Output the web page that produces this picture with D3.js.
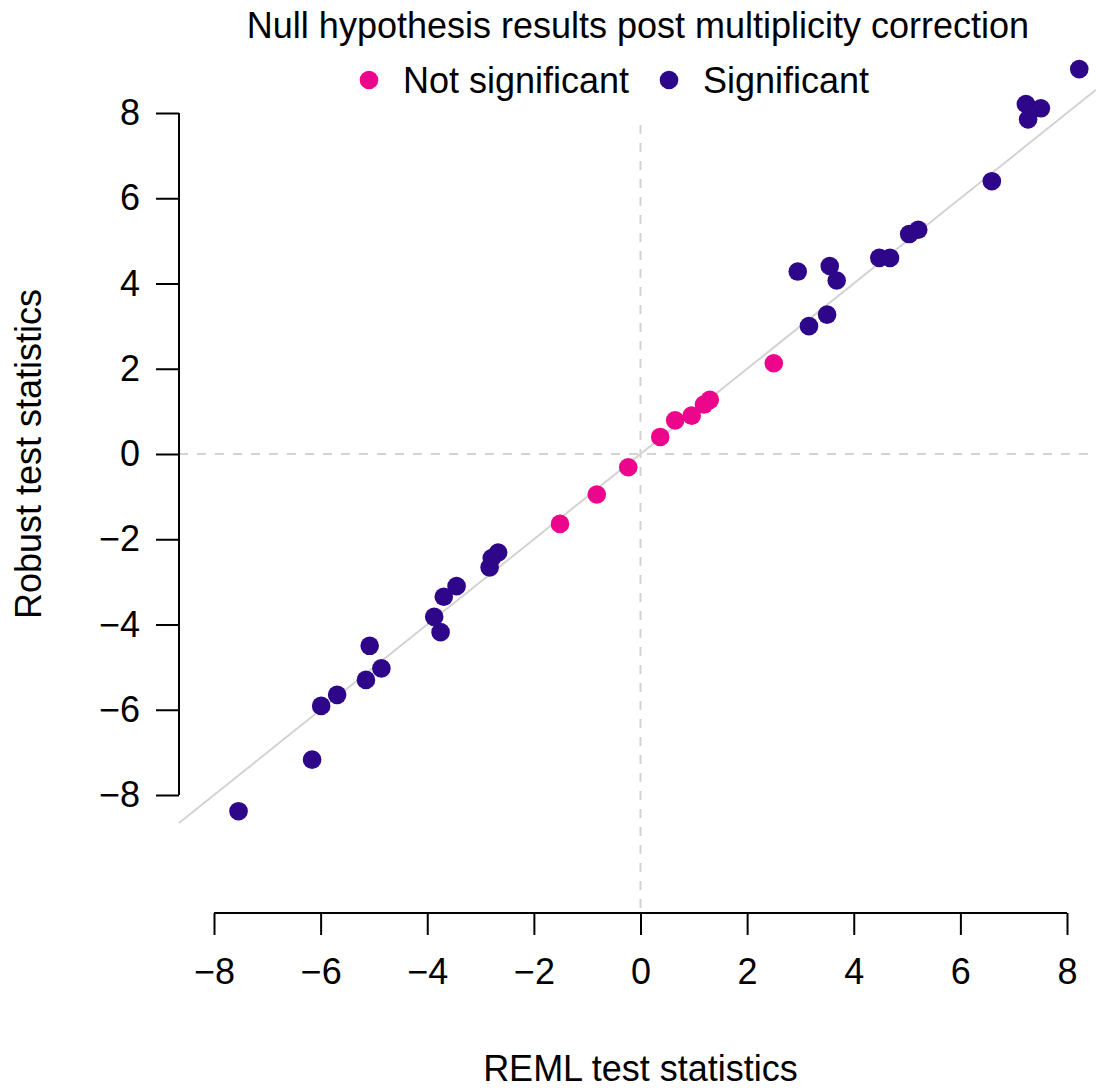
<!DOCTYPE html>
<html>
<head>
<meta charset="utf-8">
<script src="https://cdn.jsdelivr.net/npm/d3@7"></script>
<style>
  body { margin: 0; background: #fff; }
  svg { display: block; font-family: "Liberation Sans", Arial, sans-serif; }
</style>
</head>
<body>
<svg id="chart"></svg>
<script>
// REML vs robust test statistics
const remlNotSig = [2.50, 1.30, 1.19, 0.96, 0.65, 0.37, -0.23, -0.82, -1.51];
const robustNotSig = [2.13, 1.27, 1.16, 0.90, 0.79, 0.40, -0.31, -0.95, -1.64];

const remlSig = [8.23, 7.23, 7.51, 7.27, 6.59, 5.21, 5.04, 4.68, 4.48, 3.55, 3.68, 2.95, 3.50, 3.16,
  -2.67, -2.79, -2.83, -3.45, -3.69, -3.87, -3.75, -5.08, -4.86, -5.15, -5.69, -5.99, -6.16, -7.54];
const robustSig = [9.03, 8.21, 8.11, 7.85, 6.40, 5.26, 5.16, 4.60, 4.60, 4.41, 4.07, 4.28, 3.27, 3.00,
  -2.31, -2.44, -2.66, -3.10, -3.35, -3.82, -4.18, -4.50, -5.03, -5.30, -5.65, -5.91, -7.17, -8.38];

const xTicks = [-8, -6, -4, -2, 0, 2, 4, 6, 8];
const yTicks = [-8, -6, -4, -2, 0, 2, 4, 6, 8];
const legendLabels = ["Not significant", "Significant"];

const width = 1096, height = 1091;
const pink = "#EB068C", purple = "#2E0689";
const fontSize = "36px";

const svg = d3.select("#chart").attr("width", width).attr("height", height);

const x = d3.scaleLinear().domain([-8, 8]).range([214, 1067]);
const y = d3.scaleLinear().domain([-8, 8]).range([795, 113]);
const plotLeft = 179, plotRight = 1096;

// reference lines
svg.append("line")
  .attr("x1", x(0)).attr("x2", x(0)).attr("y1", 125).attr("y2", 913)
  .attr("stroke", "#d3d3d3").attr("stroke-width", 2).attr("stroke-dasharray", "9,9");
svg.append("line")
  .attr("x1", plotLeft).attr("x2", plotRight).attr("y1", y(0)).attr("y2", y(0))
  .attr("stroke", "#d3d3d3").attr("stroke-width", 2).attr("stroke-dasharray", "9,9");

const lo = x.invert(plotLeft), hi = x.invert(plotRight);
svg.append("line")
  .attr("x1", x(lo)).attr("y1", y(lo)).attr("x2", x(hi)).attr("y2", y(hi))
  .attr("stroke", "#d3d3d3").attr("stroke-width", 2);

// axes
const xAxis = svg.append("g")
  .attr("transform", "translate(0,913)")
  .call(d3.axisBottom(x).tickValues(xTicks).tickSize(22).tickPadding(23).tickFormat(d3.format("d")));
const yAxis = svg.append("g")
  .attr("transform", `translate(${plotLeft},0)`)
  .call(d3.axisLeft(y).tickValues(yTicks).tickSize(23).tickPadding(16).tickFormat(d3.format("d")));

[xAxis, yAxis].forEach(g => {
  g.select(".domain").attr("stroke", "#000").attr("stroke-width", 2);
  g.selectAll(".tick line").attr("stroke", "#000").attr("stroke-width", 2);
  g.selectAll(".tick text").attr("fill", "#000").style("font-size", fontSize)
    .style("font-family", "'Liberation Sans', Arial, sans-serif");
});
// plain axis lines without the end stubs d3 draws
xAxis.select(".domain").attr("d", `M${x(-8)},0H${x(8)}`);
yAxis.select(".domain").attr("d", `M0,${y(8)}V${y(-8)}`);

// points
svg.append("g").selectAll("circle")
  .data(remlNotSig.map((v, i) => [v, robustNotSig[i]]))
  .join("circle")
  .attr("cx", d => x(d[0])).attr("cy", d => y(d[1])).attr("r", 9.3)
  .attr("fill", pink);

svg.append("g").selectAll("circle")
  .data(remlSig.map((v, i) => [v, robustSig[i]]))
  .join("circle")
  .attr("cx", d => x(d[0])).attr("cy", d => y(d[1])).attr("r", 9.3)
  .attr("fill", purple);

// titles
svg.append("text")
  .attr("x", 638).attr("y", 38)
  .attr("text-anchor", "middle").style("font-size", fontSize)
  .text("Null hypothesis results post multiplicity correction");

svg.append("text")
  .attr("x", x(0)).attr("y", 1081)
  .attr("text-anchor", "middle").style("font-size", fontSize)
  .text("REML test statistics");

svg.append("text")
  .attr("transform", `translate(41,${y(0)}) rotate(-90)`)
  .attr("text-anchor", "middle").style("font-size", fontSize)
  .text("Robust test statistics");

// legend
const legend = svg.append("g");
const legendX = [369, 669];
legendLabels.forEach((lab, i) => {
  legend.append("circle").attr("cx", legendX[i]).attr("cy", 80).attr("r", 9.3)
    .attr("fill", i === 0 ? pink : purple);
  legend.append("text").attr("x", legendX[i] + 34).attr("y", 93)
    .style("font-size", fontSize).text(lab);
});
</script>
</body>
</html>
